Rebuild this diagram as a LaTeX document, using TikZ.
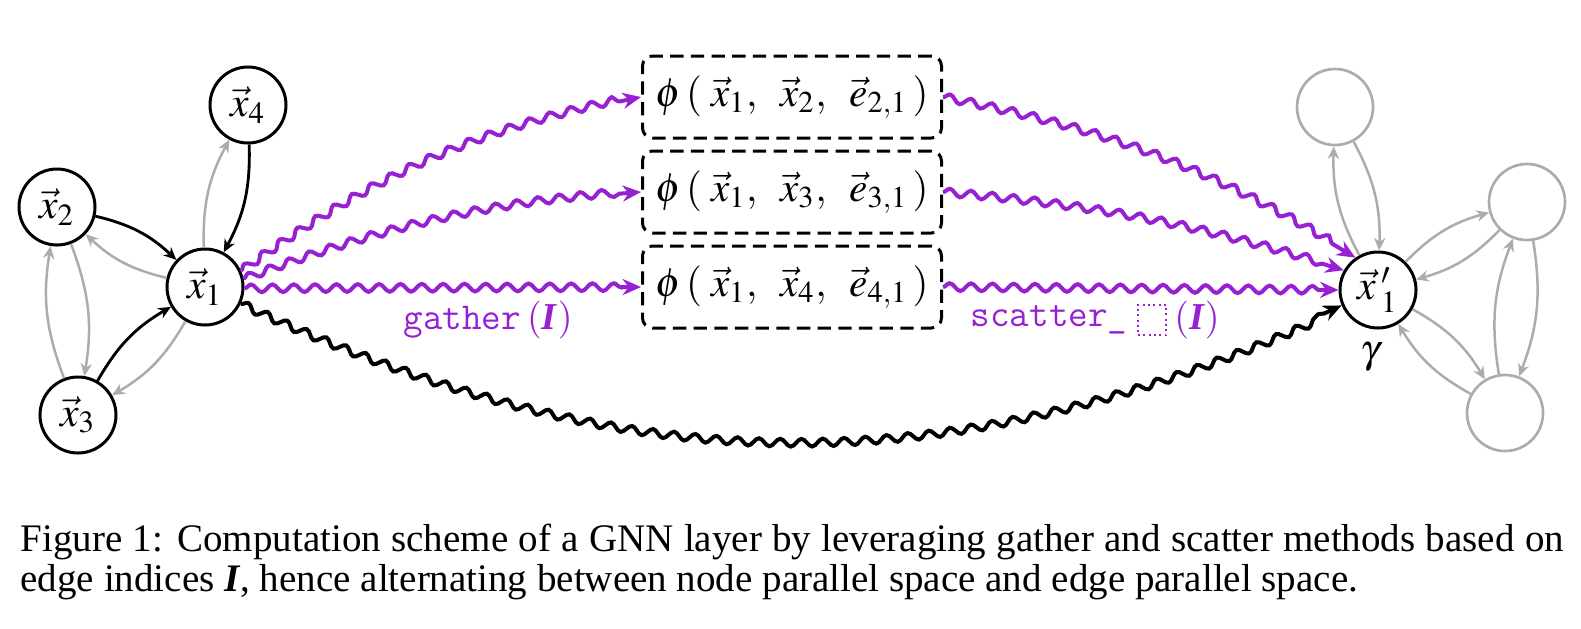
\documentclass[tikz,border=0pt]{standalone}
\usepackage{mathptmx}
\usepackage{fontspec}
\setmainfont{Liberation Serif}
\usetikzlibrary{arrows.meta,decorations.pathmorphing}
\definecolor{gpurple}{RGB}{150,32,210}
\definecolor{lgray}{RGB}{172,172,172}
\tikzset{
  vtx/.style={circle,draw=black,line width=0.9pt,minimum size=22.8pt,inner sep=0pt,font=\fontsize{12.5}{14}\selectfont},
  gvtx/.style={circle,draw=lgray,line width=0.8pt,minimum size=22.8pt,inner sep=0pt},
  fbx/.style={draw,dash pattern=on 4pt off 2.2pt,rounded corners=3pt,line width=0.9pt,minimum width=89.7pt,minimum height=24.6pt,inner sep=0pt,font=\fontsize{12.3}{14}\selectfont},
  blk/.style={line width=0.85pt,draw=black,-{Stealth[length=3.8pt,width=3.4pt]}},
  gry/.style={line width=0.75pt,draw=lgray,-{Stealth[length=3.8pt,width=3.4pt]}},
  wave/.style={line width=1.2pt,decorate,decoration={snake,amplitude=1.15pt,segment length=6.4pt,post length=5pt},-{Stealth[length=5.5pt,width=4.8pt]}},
  lbl/.style={text=gpurple,inner sep=0pt,font=\fontsize{11.4}{13}\selectfont},
}
\begin{document}
\begin{tikzpicture}[x=0.3pt,y=-0.3pt]
\useasboundingbox (0,0) rectangle (1581,628);
% left graph
\node[vtx] (x1) at (205,287) {$\vec{x}_1$};
\node[vtx] (x2) at (57,207) {$\vec{x}_2$};
\node[vtx] (x3) at (78,415) {$\vec{x}_3$};
\node[vtx] (x4) at (248,105) {$\vec{x}_4$};
\draw[blk] (x4) to[bend left=15] (x1);
\draw[gry] (x1) to[bend left=15] (x4);
\draw[blk] (x2) to[bend left=15] (x1);
\draw[gry] (x1) to[bend left=15] (x2);
\draw[blk] (x3) to[bend left=15] (x1);
\draw[gry] (x1) to[bend left=15] (x3);
\draw[gry] (x2) to[bend left=15] (x3);
\draw[gry] (x3) to[bend left=15] (x2);
% right graph
\node[vtx] (y1) at (1378,290) {$\vec{x}\,'_1$};
\node[gvtx] (yt) at (1335,107) {};
\node[gvtx] (yr) at (1527,202) {};
\node[gvtx] (yb) at (1505,413) {};
\node[font=\fontsize{12}{14}\selectfont] (gam) at (1370,357) {$\gamma$};
\draw[gry] (y1) to[bend left=15] (yt);
\draw[gry] (yt) to[bend left=15] (y1);
\draw[gry] (y1) to[bend left=15] (yr);
\draw[gry] (yr) to[bend left=15] (y1);
\draw[gry] (y1) to[bend left=15] (yb);
\draw[gry] (yb) to[bend left=15] (y1);
\draw[gry] (yr) to[bend left=15] (yb);
\draw[gry] (yb) to[bend left=15] (yr);
% edge boxes
\node[fbx] (b1) at (792,97) {$\phi\,(\;\vec{x}_1,\;\;\vec{x}_2,\;\;\vec{e}_{2,1}\,)$};
\node[fbx] (b2) at (792,192) {$\phi\,(\;\vec{x}_1,\;\;\vec{x}_3,\;\;\vec{e}_{3,1}\,)$};
\node[fbx] (b3) at (792,287) {$\phi\,(\;\vec{x}_1,\;\;\vec{x}_4,\;\;\vec{e}_{4,1}\,)$};
% wavy connectors
\draw[wave,gpurple] (x1.24) to[bend left=12] (b1.west);
\draw[wave,gpurple] (x1.12) to[bend left=8] (b2.west);
\draw[wave,gpurple] (x1.-2) to (b3.west);
\draw[wave,gpurple] (b1.east) to[bend left=10] (y1.125);
\draw[wave,gpurple] (b2.east) to[bend left=6] (y1.150);
\draw[wave,gpurple] (b3.east) to (y1.180);
\draw[wave,black] (x1.-25) to[bend right=25] (y1.-157);
% labels
\node[lbl] (ga) at (488,320) {\texttt{gather}\,$($\textbf{\textit{I}}$)$};
\node[lbl] (sc) at (1049,320) {\texttt{scatter\_}};
\node[draw=gpurple,densely dotted,line width=0.6pt,minimum width=8.5pt,minimum height=9pt,inner sep=0pt] (sq) at (1152,320) {};
\node[lbl] (si) at (1197,320) {$($\textbf{\textit{I}}$)$};
% caption
\node[anchor=north west,text width=463pt,align=justify,inner sep=0pt,font=\fontsize{11.7}{12.1}\selectfont] (cap) at (20,523) {Figure 1: Computation scheme of a GNN layer by leveraging gather and scatter methods based on edge indices \textbf{\textit{I}}, hence alternating between node parallel space and edge parallel space.};
\end{tikzpicture}
\end{document}
